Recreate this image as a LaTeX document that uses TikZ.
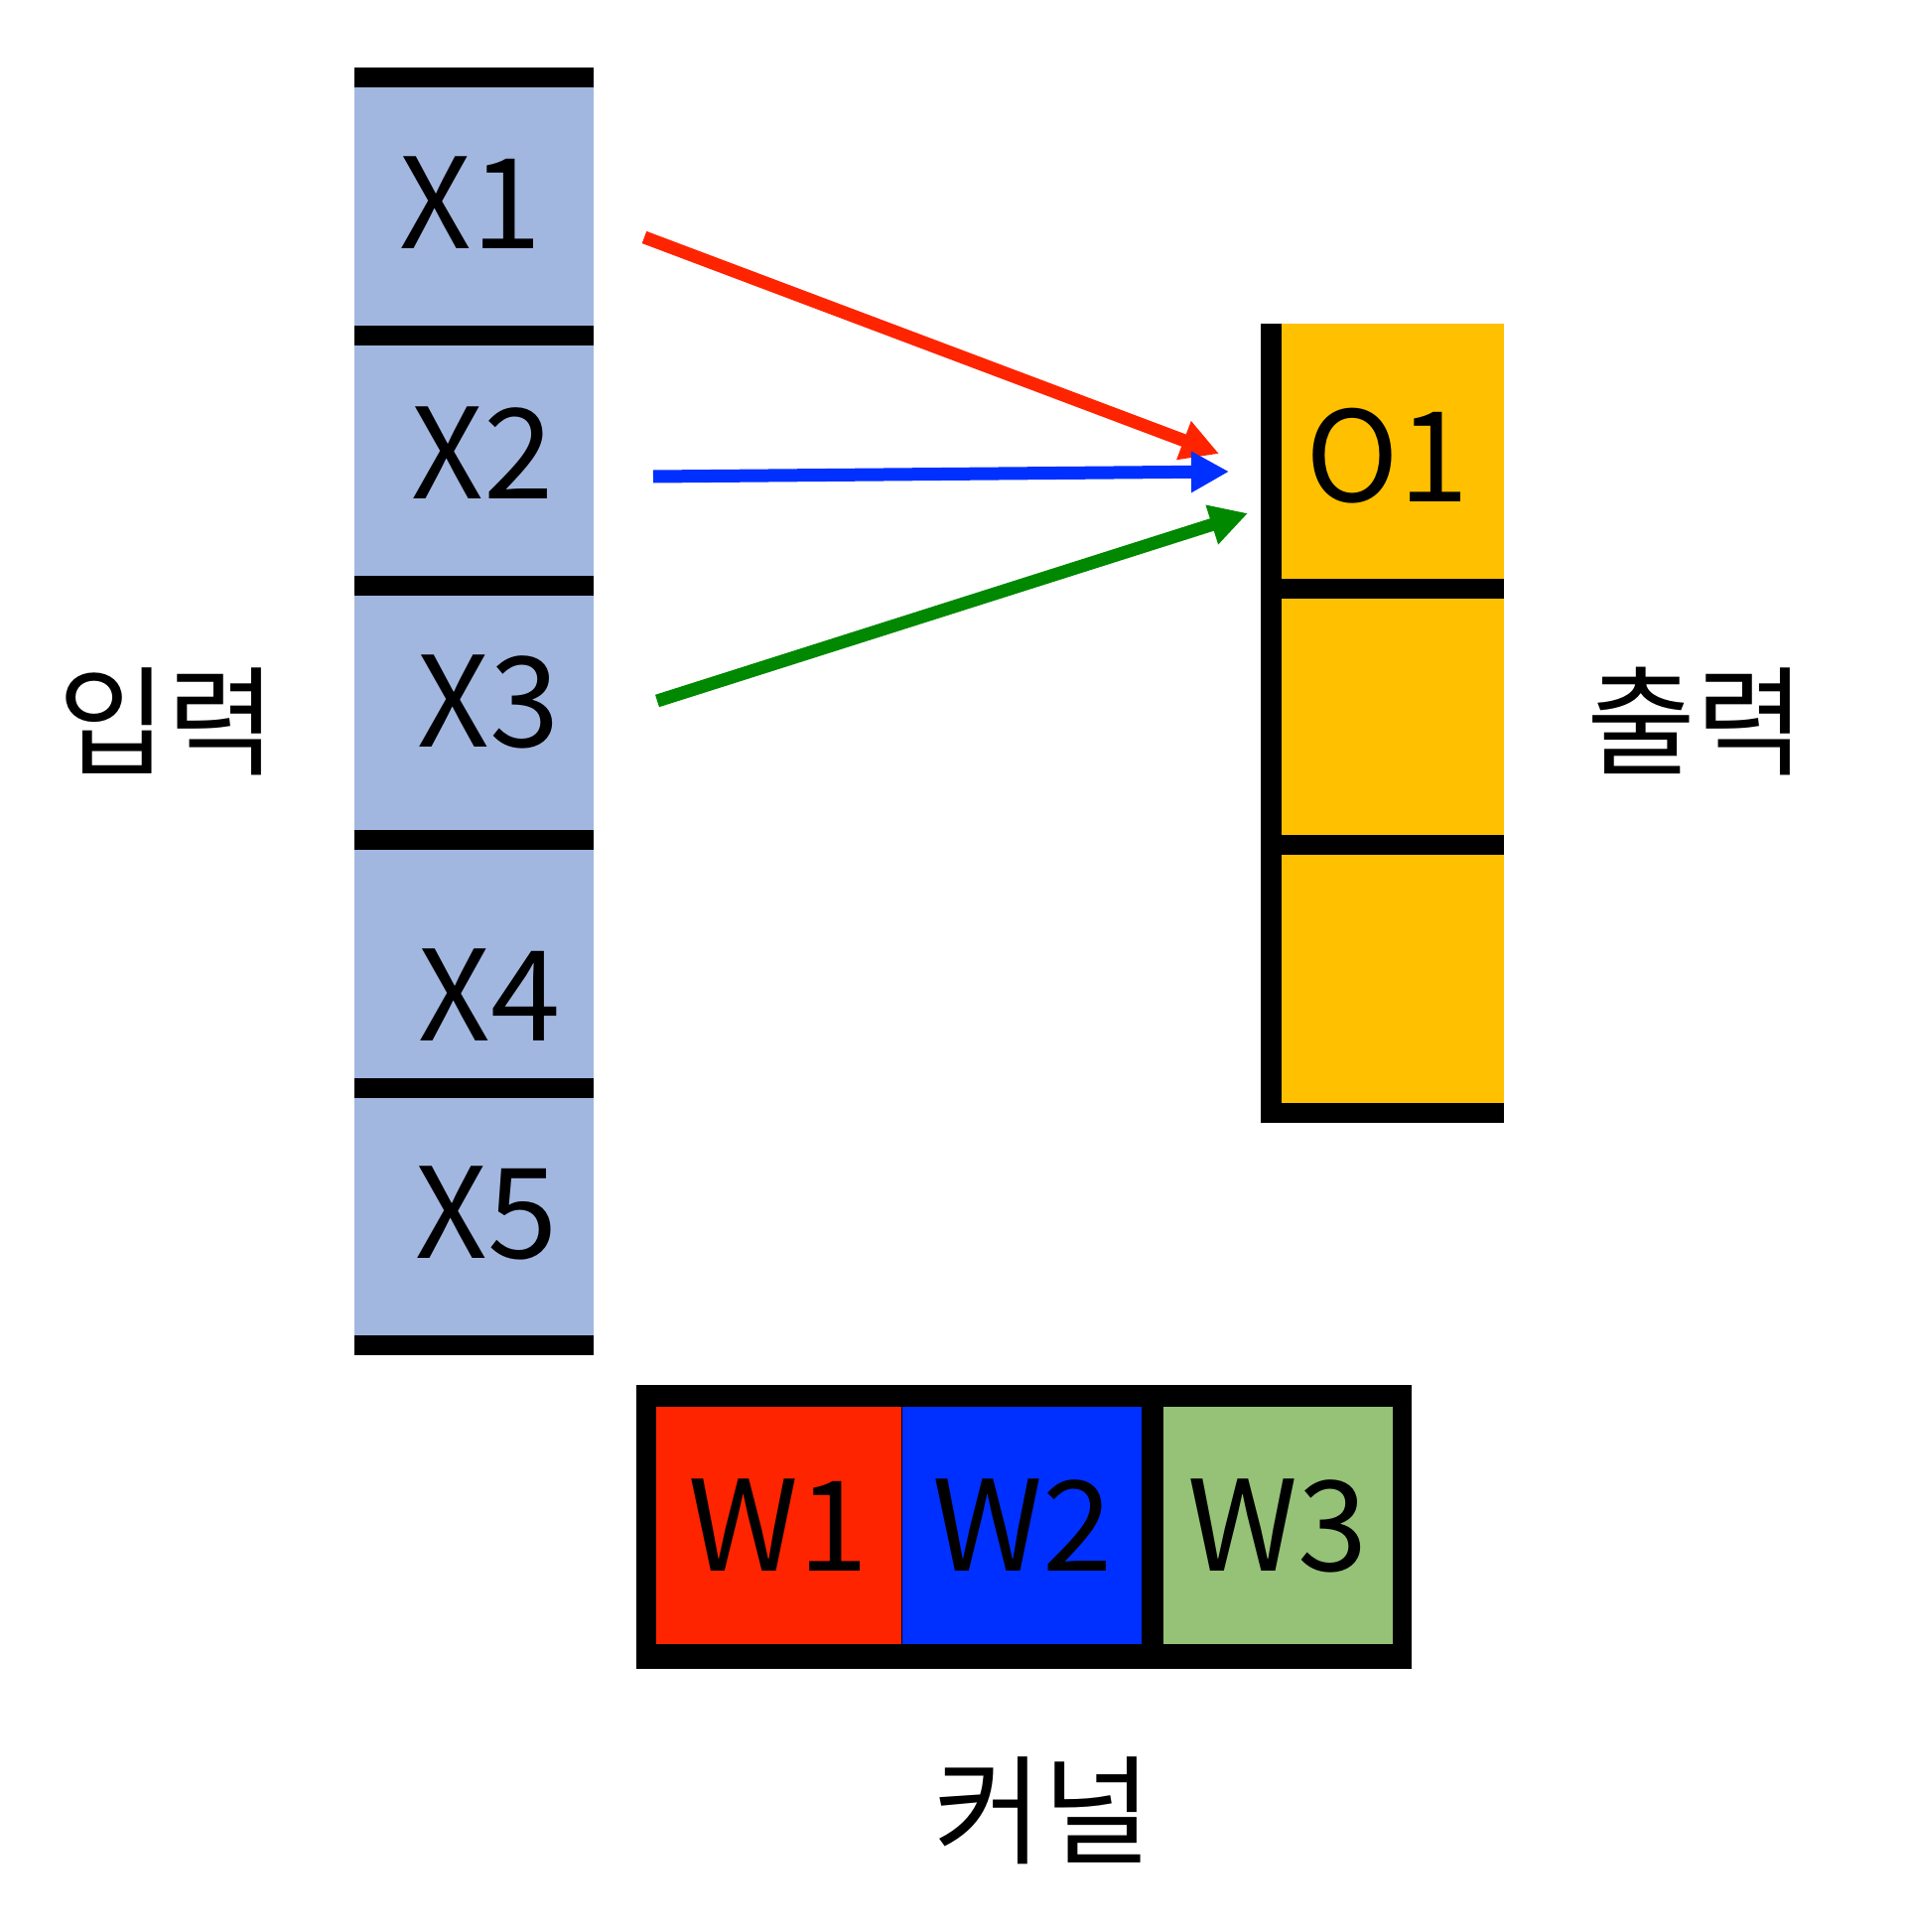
\documentclass[tikz,border=0pt]{standalone}
\usepackage{fontspec}
\newfontfamily\kr{Noto Sans CJK KR}
\usetikzlibrary{arrows.meta,positioning}
\definecolor{inblue}{RGB}{162,183,224}
\definecolor{outorange}{RGB}{255,192,0}
\definecolor{kred}{RGB}{255,36,0}
\definecolor{kblue}{RGB}{0,48,255}
\definecolor{kgreen}{RGB}{149,194,118}
\definecolor{agreen}{RGB}{0,136,0}
\tikzset{
  cell/.style={inner sep=0pt,font=\kr\fontsize{36}{40}\selectfont},
  lab/.style={inner sep=0pt,font=\kr\fontsize{34}{40}\selectfont},
  bar/.style={line width=0.2cm},
  every picture/.style={line cap=butt,line join=miter}
}

\begin{document}
\begin{tikzpicture}[>={Triangle[length=3.8mm,width=3.9mm]},
  wcell/.style={cell,minimum width=#1,minimum height=2.39cm},
  arrowline/.style={line width=0.13cm}]
  \useasboundingbox (0,0) rectangle (19.2,-19.46);
  % input
  \fill[inblue] (3.57,-0.78) rectangle (5.98,-13.55);
  \foreach \y in {0.78,3.38,5.90,8.46,10.96,13.55}
    \draw[bar] (3.57,-\y) -- (5.98,-\y);
  \node[cell] (x1) at (4.74,-2.04) {X1};
  \node[cell] (x2) at (4.86,-4.56) {X2};
  \node[cell] (x3) at (4.92,-7.07) {X3};
  \node[cell] (x4) at (4.93,-10.02) {X4};
  \node[cell] (x5) at (4.90,-12.22) {X5};
  \node[lab] (inlab) at (1.68,-7.27) {입력};
  % output
  \fill[outorange] (12.80,-3.26) rectangle (15.15,-11.21);
  \draw[line width=0.21cm] (12.805,-3.26) -- (12.805,-11.31);
  \foreach \y in {5.93,8.51,11.21}
    \draw[bar] (12.70,-\y) -- (15.15,-\y);
  \node[cell] (o1) at (13.98,-4.59) {O1};
  \node[lab] (outlab) at (17.08,-7.27) {출력};
  % kernel
  \fill (6.41,-13.95) rectangle (14.22,-16.81);
  \node[wcell=2.47cm,fill=kred] (w1) at (7.845,-15.365) {W1};
  \node[wcell=2.41cm,fill=kblue,right=0pt of w1] (w2) {W2};
  \node[wcell=2.31cm,fill=kgreen,right=0.2cm of w2] (w3) {W3};
  \node[lab] (klab) at (10.50,-18.24) {커널};
  % arrows
  \coordinate (r0) at (6.49,-2.39);
  \coordinate (r1) at (12.28,-4.57);
  \coordinate (b0) at (6.58,-4.80);
  \coordinate (b1) at (12.38,-4.75);
  \coordinate (g0) at (6.62,-7.06);
  \coordinate (g1) at (12.57,-5.17);
  \draw[->,arrowline,kred] (r0) -- (r1);
  \draw[->,arrowline,kblue] (b0) -- (b1);
  \draw[->,arrowline,agreen] (g0) -- (g1);
\end{tikzpicture}
\end{document}
